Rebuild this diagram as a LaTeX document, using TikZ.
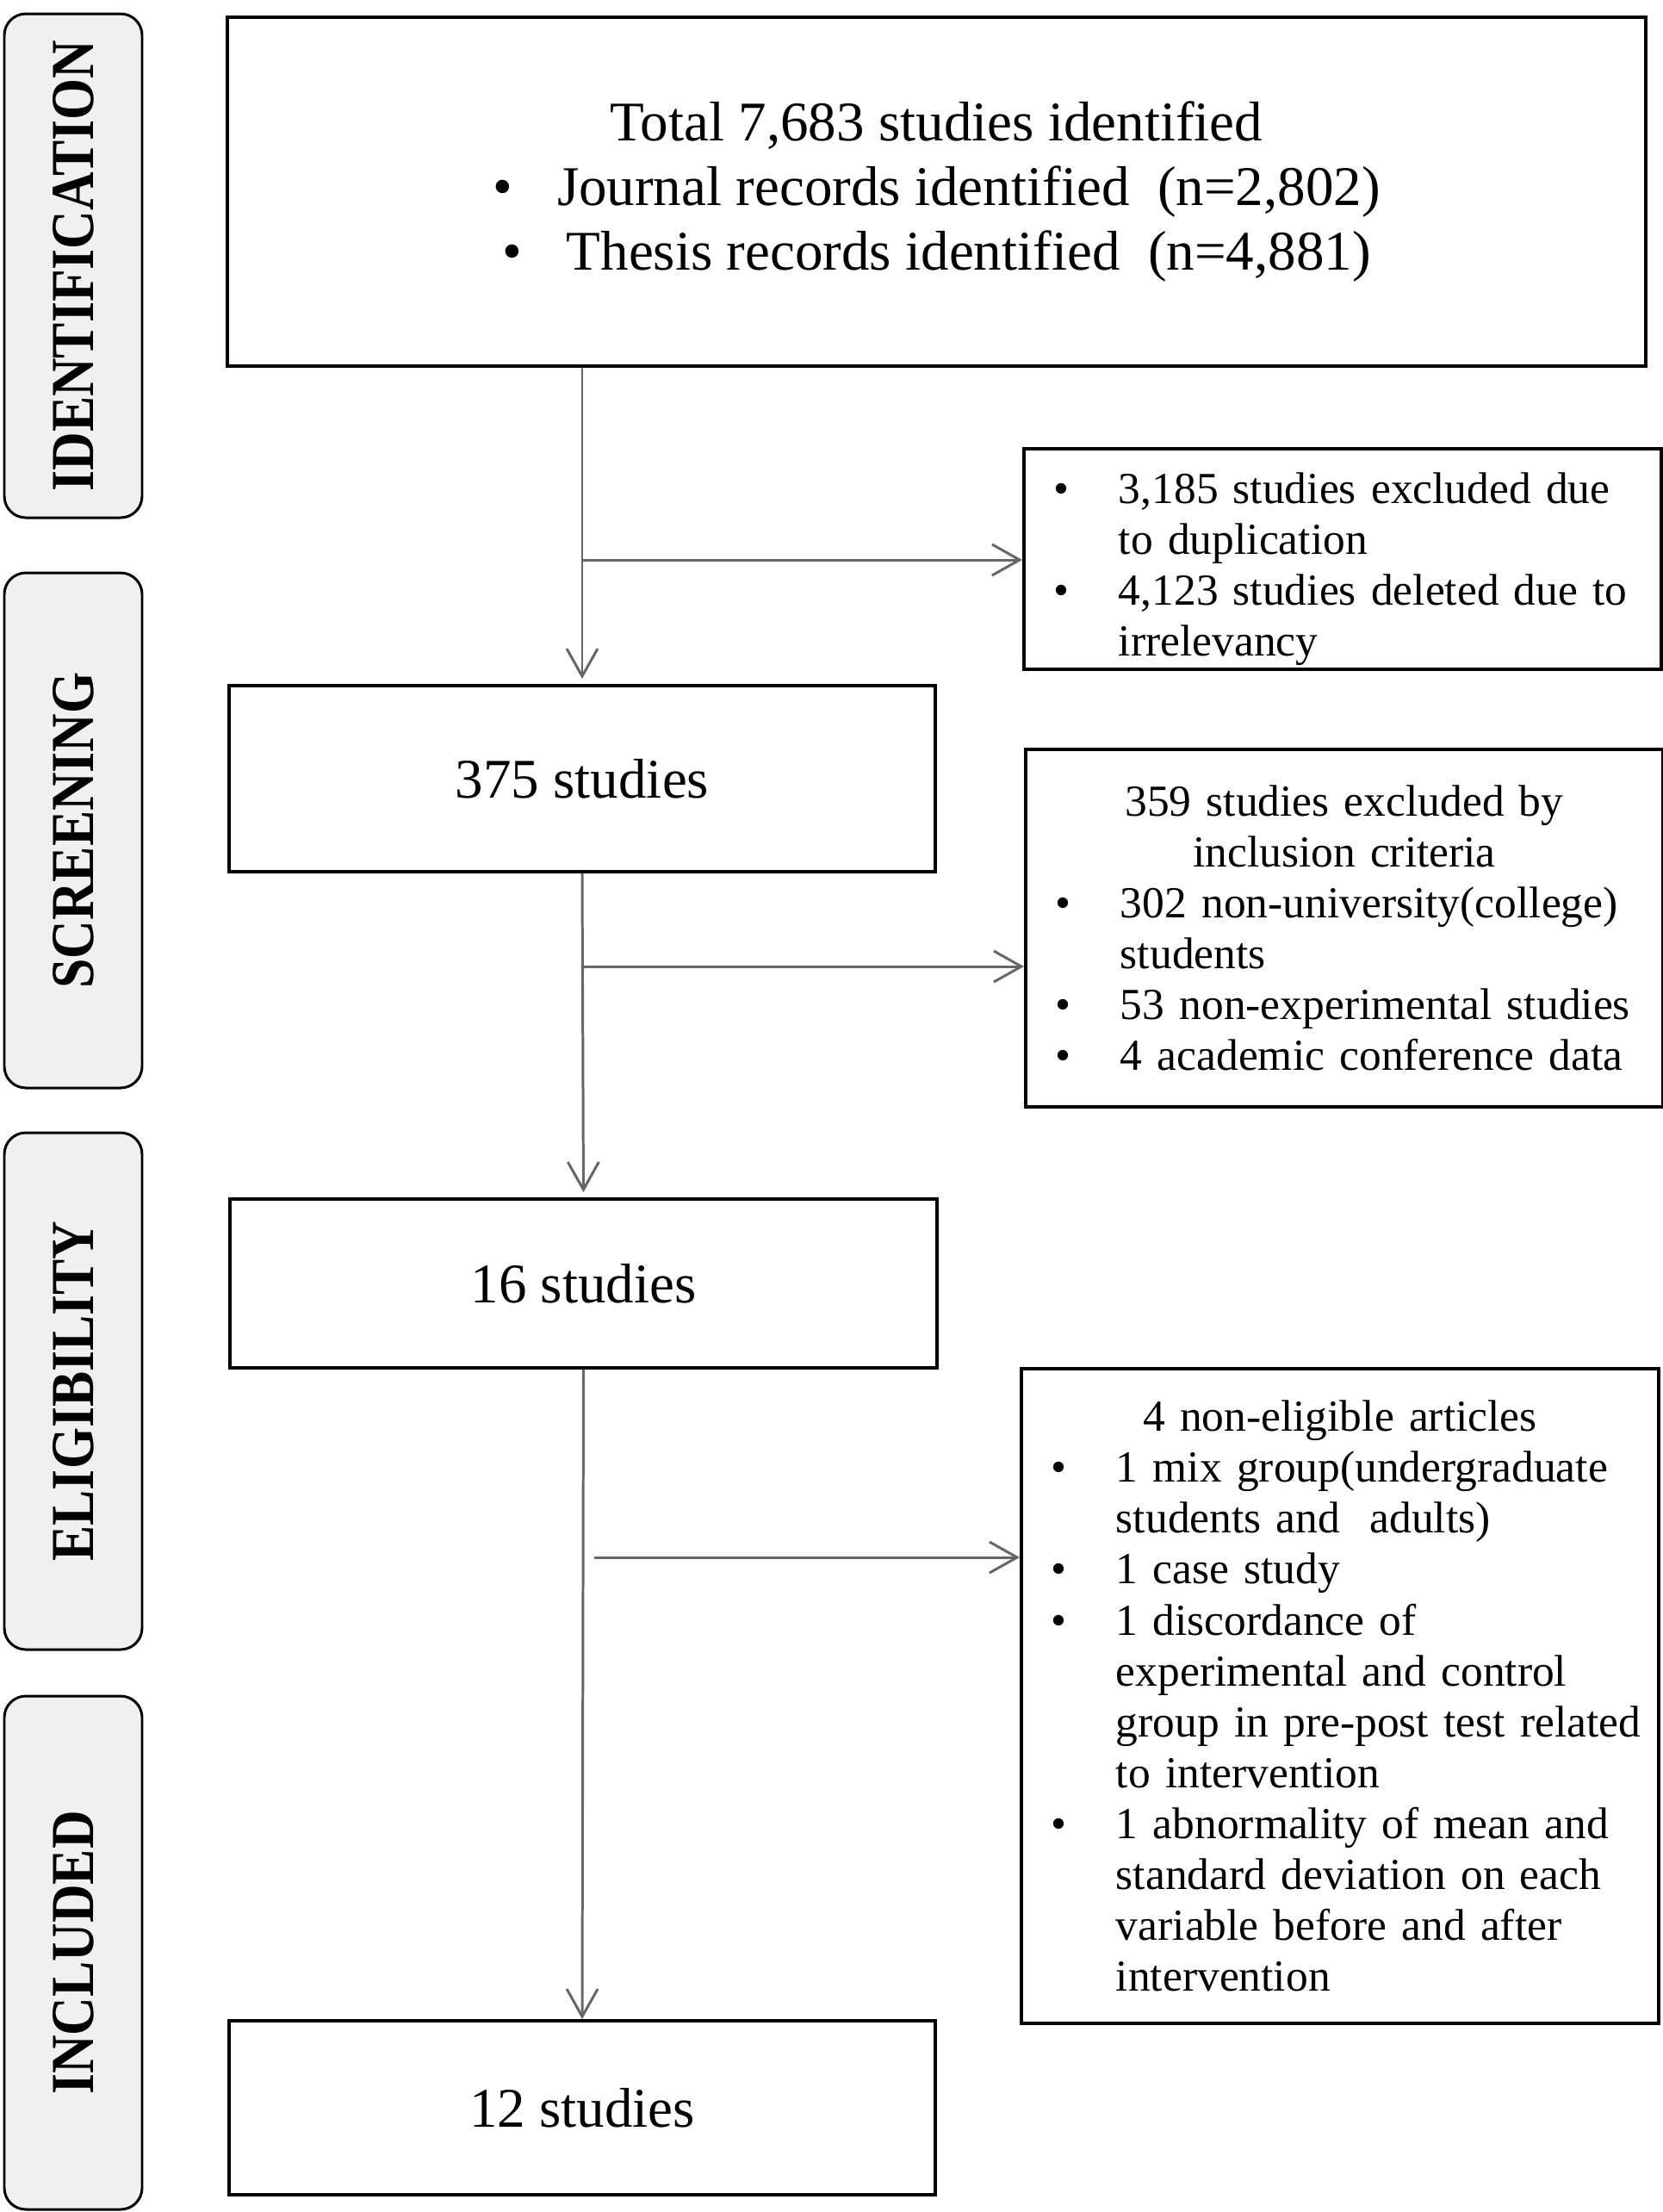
\documentclass[tikz,border=0pt]{standalone}
\usepackage{fontspec}
\usepackage{graphicx}
\setmainfont{Liberation Serif}
\usetikzlibrary{arrows.meta}
\newcommand{\bigtext}{\fontsize{18.5}{21.3}\selectfont}
\newcommand{\smalltext}{\fontsize{14.65}{16.8}\selectfont}
\newcommand{\stagetext}[1]{\scalebox{0.87}[1]{\fontsize{20.2}{22}\selectfont\bfseries #1}}
\newcommand{\bitem}[1]{\par\hangindent=0.9cm\hangafter=1\noindent\makebox[0.9cm][l]{\hspace{0.15cm}\textbullet}#1\par}
\tikzset{
	stage/.style={draw=black, line width=0.85pt, fill=black!6, rounded corners=0.25cm, rotate=90, minimum height=1.60cm, inner sep=0pt},
	mainbox/.style={draw=black, line width=1.1pt, inner sep=0pt, font=\bigtext},
	exbox/.style={draw=black, line width=1.1pt, text width=7.0cm, inner xsep=0.2cm, inner ysep=0pt, align=left, anchor=north west, font=\smalltext},
	arr/.style={draw=black!60, line width=0.85pt, -{Straight Barb[length=0.32cm, width=0.36cm, line width=0.85pt]}}
}
\begin{document}
\begin{tikzpicture}
	\useasboundingbox (0,0) rectangle (19.31,-25.68);
	\node[stage, minimum width=5.85cm] (sident) at (0.85,-3.085) {\stagetext{IDENTIFICATION}};
	\node[stage, minimum width=5.98cm] (sscreen) at (0.85,-9.64) {\stagetext{SCREENING}};
	\node[stage, minimum width=6.00cm] (selig) at (0.85,-16.15) {\stagetext{ELIGIBILITY}};
	\node[stage, minimum width=5.96cm] (sincl) at (0.85,-22.67) {\stagetext{INCLUDED}};

	\node[mainbox, minimum width=16.47cm, minimum height=4.05cm, align=center] (ident) at (10.875,-2.225)
		{Total 7,683 studies identified\\ \textbullet\hspace{0.8em}Journal records identified~~(n=2,802)\\ \textbullet\hspace{0.8em}Thesis records identified~~(n=4,881)};
	\node[mainbox, minimum width=8.20cm, minimum height=2.16cm] (n375) at (6.76,-9.04) {375 studies};
	\node[mainbox, minimum width=8.21cm, minimum height=1.96cm] (n16) at (6.775,-14.90) {16 studies};
	\node[mainbox, minimum width=8.20cm, minimum height=2.02cm] (n12) at (6.76,-24.47) {12 studies};

	\node[exbox, minimum height=2.56cm] (ex1) at (11.87,-5.19)
		{\bitem{3,185 studies excluded due\newline to duplication}
		\bitem{4,123 studies deleted due to\newline irrelevancy}};
	\node[exbox, minimum height=4.15cm] (ex2) at (11.89,-8.68)
		{{\centering 359 studies excluded by\\inclusion criteria\par}
		\bitem{302 non-university(college)\newline students}
		\bitem{53 non-experimental studies}
		\bitem{4 academic conference data}};
	\node[exbox, minimum height=7.60cm] (ex3) at (11.84,-15.87)
		{{\centering 4 non-eligible articles\par}
		\bitem{1 mix group(undergraduate\newline students and~~adults)}
		\bitem{1 case study}
		\bitem{1 discordance of\newline experimental and control\newline group in pre-post test related\newline to intervention}
		\bitem{1 abnormality of mean and\newline standard deviation on each\newline variable before and after\newline intervention}};

	\coordinate (split1) at (6.77,-6.50);
	\coordinate (split2) at (6.77,-11.22);
	\coordinate (split3) at (6.90,-18.08);

	\draw[arr, shorten >=0.06cm] (ident.south -| n375.north) -- (n375.north);
	\draw[arr, shorten >=0.06cm] (n375.south) -- (n16.north);
	\draw[arr] (n16.south) -- (n12.north);
	\draw[arr] (split1) -- (split1 -| ex1.west);
	\draw[arr] (split2) -- (split2 -| ex2.west);
	\draw[arr] (split3) -- (split3 -| ex3.west);
\end{tikzpicture}
\end{document}
